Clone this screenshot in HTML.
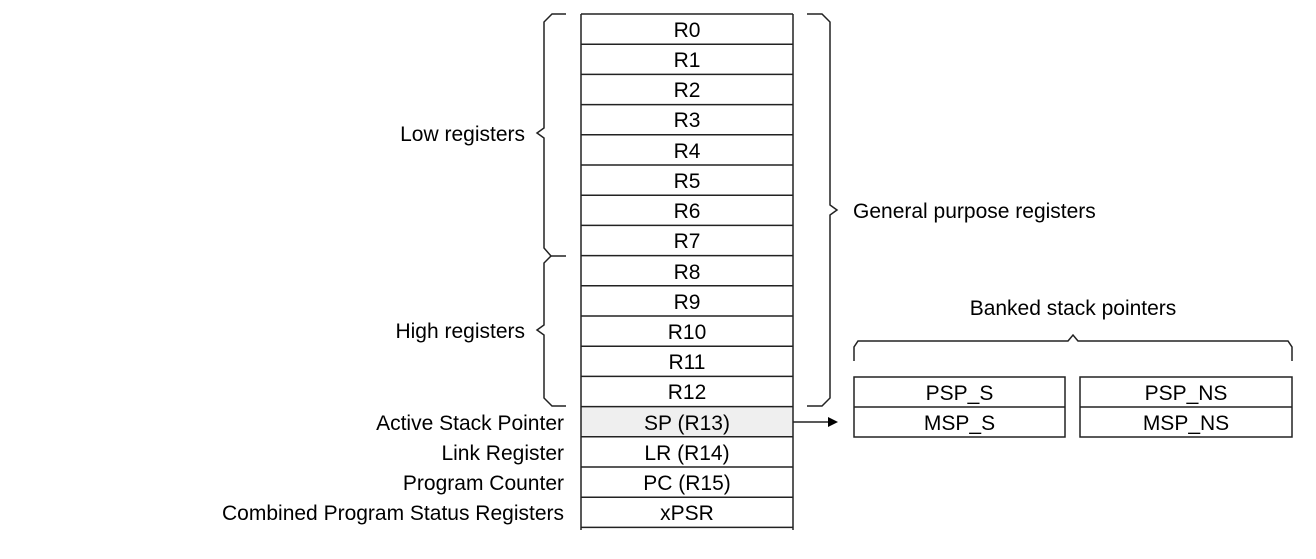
<!DOCTYPE html>
<html><head><meta charset="utf-8"><style>
html,body{margin:0;padding:0;background:#fff;}
svg{display:block}
text{font-family:"Liberation Sans",Arial,sans-serif;font-size:21px;fill:#000}
</style></head><body>
<svg width="1316" height="559" viewBox="0 0 1316 559">
<g stroke="#222" stroke-width="1.5" fill="none">
<rect x="581" y="406.5" width="212" height="30" fill="#efefef" stroke="none"/>
<line x1="581" y1="14" x2="581" y2="530"/>
<line x1="793" y1="14" x2="793" y2="530"/>
<line x1="581" y1="14" x2="793" y2="14"/>
<line x1="581" y1="44.2" x2="793" y2="44.2"/>
<line x1="581" y1="74.4" x2="793" y2="74.4"/>
<line x1="581" y1="104.6" x2="793" y2="104.6"/>
<line x1="581" y1="134.8" x2="793" y2="134.8"/>
<line x1="581" y1="165" x2="793" y2="165"/>
<line x1="581" y1="195.2" x2="793" y2="195.2"/>
<line x1="581" y1="225.4" x2="793" y2="225.4"/>
<line x1="581" y1="255.6" x2="793" y2="255.6"/>
<line x1="581" y1="285.8" x2="793" y2="285.8"/>
<line x1="581" y1="316" x2="793" y2="316"/>
<line x1="581" y1="346.2" x2="793" y2="346.2"/>
<line x1="581" y1="376.4" x2="793" y2="376.4"/>
<line x1="581" y1="406.6" x2="793" y2="406.6"/>
<line x1="581" y1="436.8" x2="793" y2="436.8"/>
<line x1="581" y1="467" x2="793" y2="467"/>
<line x1="581" y1="497.2" x2="793" y2="497.2"/>
<line x1="581" y1="527.4" x2="793" y2="527.4"/>
<path d="M566 14 L552 14 L544 22 L544 128 L537 133 L544 138 L544 248 L551 256 L566 256"/>
<path d="M551 256 L544 263 L544 325 L537 330 L544 335 L544 398 L552 406 L566 406"/>
<path d="M807 14 L822 14 L830 22 L830 205 L837 210 L830 215 L830 398 L822 406 L807 406"/>
<line x1="793" y1="422" x2="828" y2="422"/>
<rect x="854" y="377" width="211" height="60"/>
<line x1="854" y1="407" x2="1065" y2="407"/>
<rect x="1080" y="377" width="212" height="60"/>
<line x1="1080" y1="407" x2="1292" y2="407"/>
<path d="M854 361 L854 347 L858 341 L1068 341 L1073 335 L1078 341 L1288 341 L1292 347 L1292 361"/>
</g>
<polygon points="828,417 838,422 828,427" fill="#000"/>
<g text-anchor="middle">
<text x="687" y="37">R0</text>
<text x="687" y="67">R1</text>
<text x="687" y="97">R2</text>
<text x="687" y="127">R3</text>
<text x="687" y="158">R4</text>
<text x="687" y="188">R5</text>
<text x="687" y="218">R6</text>
<text x="687" y="248">R7</text>
<text x="687" y="279">R8</text>
<text x="687" y="309">R9</text>
<text x="687" y="339">R10</text>
<text x="687" y="369">R11</text>
<text x="687" y="399">R12</text>
<text x="687" y="430">SP (R13)</text>
<text x="687" y="460">LR (R14)</text>
<text x="687" y="490">PC (R15)</text>
<text x="687" y="520">xPSR</text>
<text x="959.5" y="400">PSP_S</text>
<text x="959.5" y="430">MSP_S</text>
<text x="1186" y="400">PSP_NS</text>
<text x="1186" y="430">MSP_NS</text>
<text x="1073" y="315">Banked stack pointers</text>
</g>
<g text-anchor="end">
<text x="525" y="141">Low registers</text>
<text x="525" y="338">High registers</text>
<text x="564" y="430">Active Stack Pointer</text>
<text x="564" y="460">Link Register</text>
<text x="564" y="490">Program Counter</text>
<text x="564" y="520">Combined Program Status Registers</text>
</g>
<text x="853" y="218">General purpose registers</text>
</svg>
</body></html>
